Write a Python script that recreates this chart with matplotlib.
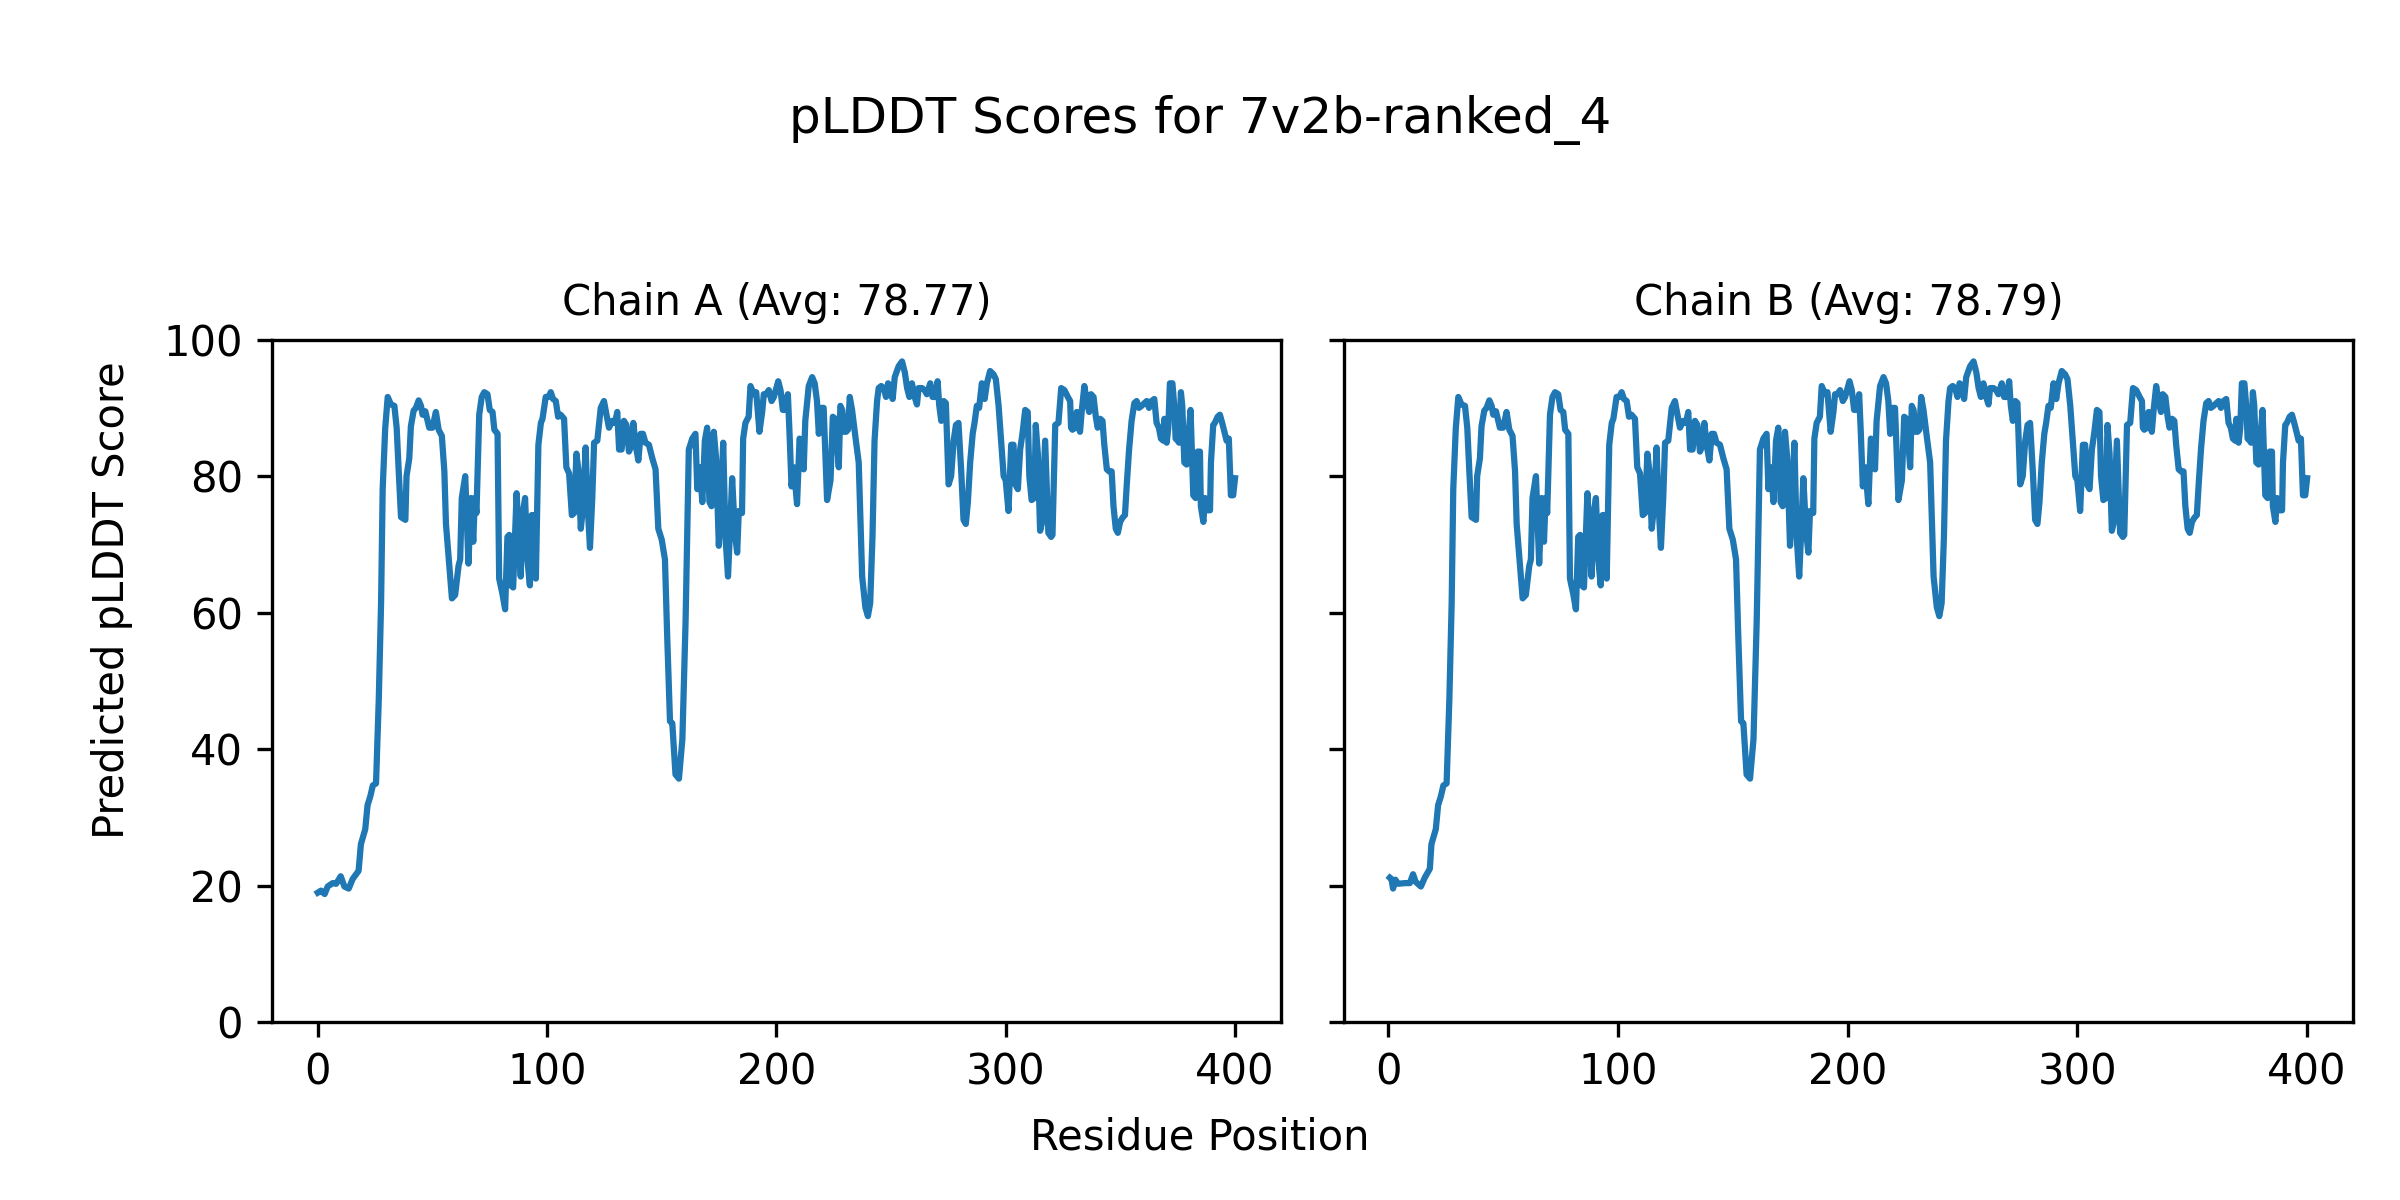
import matplotlib
matplotlib.use("Agg")
import matplotlib.pyplot as plt

# ---- data ----
title_main = "pLDDT Scores for 7v2b-ranked_4"
chain_names = ["Chain A", "Chain B"]
chain_avgs = [78.77, 78.79]

pos_a = [0, 1.4, 3, 4.3, 6.5, 8, 10, 11.6, 13.5, 15.2, 17.8, 18.8, 20.7, 21.7, 22.9, 24, 25.4,
         26.6, 27.6, 28.3, 29.4, 30.5, 31.9, 33.4, 34.4, 35.3, 36.3, 38.2, 38.7, 39.9, 40.6,
         41.8, 42.8, 44, 45, 45.7, 46.9, 48.6, 50, 51.5, 52.7, 54.1, 55.2, 55.9, 57.3, 58.5,
         59.9, 61.4, 62.1, 62.8, 64.3, 65.7, 66.8, 67.8, 68.5, 69.2, 70.4, 71.5, 72.6, 74,
         75, 76.2, 77, 78.4, 79.1, 80.5, 81.7, 82.7, 83.5, 84.2, 85.2, 86.7, 87.8, 88.5,
         89.3, 90.4, 91.4, 92.5, 93.3, 94.3, 95.1, 96.2, 97.3, 98, 99.4, 100.6, 101.6, 102.6,
         103.8, 104.8, 105.9, 107.4, 108.4, 109.6, 110.8, 111.8, 112.8, 113.7, 114.7, 115.7,
         116.8, 117.7, 118.7, 119.7, 120.5, 121.9, 123.4, 124.8, 125.9, 127, 128.5, 129.6,
         130.6, 131.4, 132.5, 133.5, 134.6, 135.7, 136.9, 137.6, 138.6, 139.8, 140.8, 141.8,
         142.9, 144.4, 145.9, 147.3, 148.5, 150, 151.4, 152.4, 153.6, 154.6, 156, 157.5,
         159, 160.4, 161.8, 163.3, 164.7, 165.5, 166.6, 167.7, 168.8, 169.8, 170.8, 171.7,
         172.7, 173.7, 174.9, 176.1, 176.8, 177.8, 178.9, 179.9, 180.7, 181.9, 182.9, 183.6,
         185, 185.5, 186.5, 187.9, 188.7, 190.2, 191.2, 192.6, 193.8, 194.5, 195.5, 196.7,
         197.9, 198.9, 200.8, 201.8, 202.8, 204, 205, 205.7, 206.6, 207.6, 209, 210.1, 211.2,
         211.9, 212.6, 214.1, 215.6, 216.7, 217.7, 218.5, 219.6, 220.6, 221.4, 222.1, 223.6,
         224.6, 225.7, 226.5, 227.2, 227.9, 228.7, 229.4, 230.4, 231.2, 232, 233, 234.4,
         235.9, 236.6, 237.4, 238.8, 239.9, 240.9, 241.9, 242.8, 243.9, 244.6, 245.7, 246.8,
         247.8, 248.7, 249.7, 250.7, 251.6, 253.3, 254.8, 256, 257, 258, 259.1, 260.3, 261.3,
         262, 263.5, 264.6, 265.6, 267.1, 268.1, 269.3, 270.3, 271, 271.9, 273, 273.9, 275.1,
         276.2, 277.3, 278.3, 279.4, 280.6, 281.6, 282.6, 283.5, 284.5, 285.6, 286.4, 287.4,
         288.4, 289.6, 290.8, 291.8, 293.2, 294.7, 295.7, 296.9, 298, 299.1, 300, 301.2,
         302.4, 303.4, 304.2, 305.3, 306.3, 307.3, 308.5, 309.6, 310.3, 311.3, 312.5, 313.1,
         314, 315, 315.7, 317.2, 318.6, 319.8, 320.4, 321.6, 323, 324.2, 325.6, 327.1, 328.1,
         328.5, 329.1, 330.3, 331, 331.7, 332.4, 333.2, 334.3, 335.3, 336.4, 337.2, 338.3,
         339.3, 340.1, 341.2, 342.2, 343, 344.1, 345.1, 346.2, 347, 348, 348.9, 349.9, 350.9,
         352, 352.8, 353.8, 354.9, 356.1, 357.1, 358.1, 359.3, 360.5, 361.5, 362.5, 363.6,
         364.8, 365.8, 366.8, 367.7, 368.7, 369.2, 370.2, 370.9, 371.6, 372.7, 373.5, 374.1,
         375, 375.6, 376.4, 377, 377.9, 378.9, 379.6, 380.6, 381.1, 381.8, 382.8, 383.7,
         384.7, 385.1, 386.2, 386.9, 388.1, 389.1, 389.5, 390.5, 391.2, 392.4, 393.4, 394.4,
         395.6, 396.3, 397.3, 398.2, 399.2, 400]

score_a = [19.0, 19.3, 18.8, 19.9, 20.4, 20.3, 21.4, 19.9, 19.6, 21.0, 22.2, 26.1, 28.3, 31.8,
           33.1, 34.7, 35.0, 47.3, 61.4, 78.1, 87.0, 91.6, 90.5, 90.3, 87.1, 80.7, 74.0, 73.6,
           80.0, 82.6, 87.3, 89.6, 90.0, 91.1, 90.3, 89.0, 89.5, 87.1, 87.1, 89.4, 86.8, 85.9,
           80.7, 73.0, 67.2, 62.1, 62.6, 66.9, 67.8, 76.8, 80.0, 67.2, 76.8, 70.4, 76.8, 74.6,
           89.0, 91.6, 92.3, 92.0, 89.7, 89.4, 86.8, 86.2, 65.0, 62.8, 60.5, 71.1, 71.4, 64.0,
           63.7, 77.5, 70.4, 65.3, 74.3, 76.8, 67.8, 64.0, 74.3, 74.3, 65.0, 84.6, 87.8, 88.4,
           91.6, 91.6, 92.3, 91.3, 91.0, 88.7, 89.0, 88.4, 81.3, 80.4, 74.3, 74.6, 83.3, 80.7,
           72.3, 75.6, 84.2, 75.6, 69.5, 76.8, 84.9, 85.2, 90.0, 91.0, 89.0, 87.1, 88.1, 87.8,
           89.4, 83.9, 83.9, 88.1, 87.5, 83.6, 84.6, 87.8, 84.6, 82.3, 86.2, 86.2, 84.9, 84.6,
           82.6, 81.0, 72.3, 70.7, 67.8, 56.3, 44.1, 43.8, 36.3, 35.7, 41.5, 58.8, 83.9, 85.5,
           86.2, 78.1, 81.3, 76.2, 85.2, 87.1, 76.2, 75.6, 86.5, 82.6, 69.8, 78.8, 84.9, 71.1,
           65.3, 73.0, 79.7, 71.7, 68.8, 74.9, 74.6, 85.5, 87.8, 88.7, 93.2, 92.0, 92.3, 86.5,
           89.4, 92.0, 92.0, 92.6, 91.0, 91.6, 93.9, 92.6, 89.7, 89.7, 92.0, 86.5, 78.5, 81.3,
           75.9, 85.5, 84.6, 81.0, 88.1, 93.2, 94.5, 93.6, 91.0, 86.2, 90.0, 90.0, 82.6, 76.5,
           79.4, 88.7, 88.4, 84.6, 81.3, 90.3, 89.7, 86.5, 86.5, 86.8, 91.6, 89.7, 85.9, 82.0,
           74.3, 65.3, 60.8, 59.5, 61.4, 71.1, 85.2, 91.0, 92.9, 93.2, 92.9, 91.6, 93.6, 93.2,
           91.3, 94.5, 96.1, 96.8, 95.2, 92.9, 91.6, 93.6, 91.6, 90.5, 92.9, 92.9, 92.6, 92.0,
           93.6, 91.6, 91.6, 93.9, 90.4, 88.1, 91.0, 90.7, 78.8, 80.0, 85.2, 87.5, 87.8, 80.7,
           73.6, 73.0, 76.2, 82.0, 86.2, 87.8, 90.3, 90.0, 93.6, 91.3, 93.6, 95.4, 94.9, 94.2,
           90.3, 85.2, 80.0, 79.4, 74.9, 84.6, 84.6, 78.8, 78.1, 83.9, 86.2, 89.7, 89.4, 80.0,
           76.5, 76.8, 87.5, 83.3, 72.0, 73.0, 85.2, 71.7, 71.1, 71.4, 87.5, 87.8, 92.9, 92.6,
           91.6, 91.0, 87.1, 86.8, 87.1, 89.4, 87.5, 86.5, 89.7, 93.2, 91.0, 89.4, 92.0, 91.6,
           88.7, 87.1, 88.4, 88.1, 84.6, 81.0, 80.7, 80.7, 75.6, 72.3, 71.7, 73.3, 73.9, 74.3,
           78.8, 83.9, 88.1, 90.7, 91.0, 90.0, 90.3, 90.7, 91.0, 90.0, 91.0, 91.3, 87.8, 87.1,
           85.5, 85.2, 88.4, 84.9, 87.1, 93.6, 93.6, 90.3, 85.5, 85.2, 84.9, 92.3, 90.3, 82.0,
           81.7, 85.2, 89.7, 84.6, 77.2, 76.8, 83.6, 83.6, 75.6, 73.3, 76.8, 75.0, 75.0, 82.0,
           87.5, 87.8, 88.7, 89.0, 87.8, 86.2, 85.2, 85.5, 77.2, 77.2, 79.7]

# Chain B differs from chain A only in the first ~18 residues
pos_b_start = [0.7, 1.4, 2.1, 3.1, 4.3, 7.2, 9.4, 10.8, 11.9, 14.2, 15.9, 18.1]
score_b_start = [21.2, 21.0, 19.6, 20.9, 20.3, 20.4, 20.4, 21.7, 20.6, 19.9, 21.2, 22.5]
n_shared_from = 11  # index in chain A where both chains coincide (residue 18.8)
pos_b = pos_b_start + pos_a[n_shared_from:]
score_b = score_b_start + score_a[n_shared_from:]

x_ticks = [0, 100, 200, 300, 400]
y_ticks = [0, 20, 40, 60, 80, 100]

# ---- figure ----
fig = plt.figure(figsize=(8, 4), dpi=300)
ax_a = fig.add_axes([0.1133, 0.148, 0.4204, 0.569])
ax_b = fig.add_axes([0.5600, 0.148, 0.4204, 0.569], sharey=ax_a)

for ax, name, avg, xs, ys in [(ax_a, chain_names[0], chain_avgs[0], pos_a, score_a),
                              (ax_b, chain_names[1], chain_avgs[1], pos_b, score_b)]:
    ax.plot(xs, ys, color="#1f77b4", linewidth=1.5)
    ax.set_title(f"{name} (Avg: {avg:.2f})", fontsize=10)
    ax.set_ylim(0, 100)
    ax.set_xticks(x_ticks)
    ax.set_yticks(y_ticks)
    ax.tick_params(labelsize=10)

ax_b.tick_params(labelleft=False)

fig.suptitle(title_main, fontsize=12, y=0.9, va="center")
fig.text(0.5, 0.0525, "Residue Position", ha="center", va="center", fontsize=10)
fig.text(0.0467, 0.5, "Predicted pLDDT Score", ha="center", va="center",
         rotation=90, fontsize=10)

fig.savefig("out.png", dpi=300)
